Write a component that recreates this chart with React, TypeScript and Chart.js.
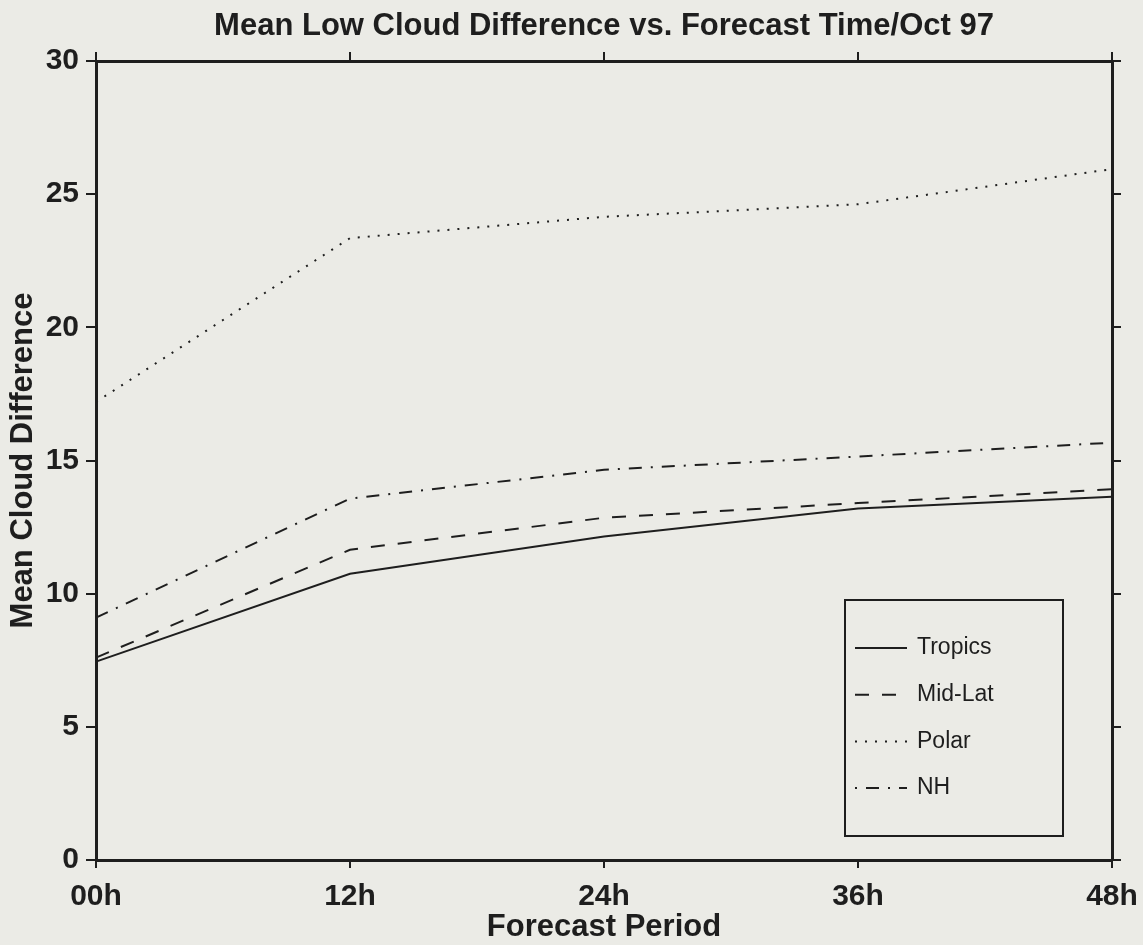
import React, { useEffect, useRef } from "react";
import { Chart, registerables } from "chart.js";

Chart.register(...registerables);

const forecastLabels = ["00h", "12h", "24h", "36h", "48h"];
const tropics = [7.45, 10.75, 12.15, 13.2, 13.64];
const midLat = [7.6, 11.65, 12.85, 13.4, 13.92];
const polar = [17.2, 23.35, 24.15, 24.62, 25.94];
const nh = [9.1, 13.57, 14.65, 15.15, 15.67];

const BG = "#ebebe6";
const INK = "#1e1e1e";
const FONT = "'Liberation Sans', Arial, Helvetica, sans-serif";

const bgPlugin = {
  id: "bgFill",
  beforeDraw(chart: any) {
    const { ctx, width, height } = chart;
    ctx.save();
    ctx.fillStyle = BG;
    ctx.fillRect(0, 0, width, height);
    ctx.restore();
  },
};

const legendPlugin = {
  id: "boxLegend",
  afterDatasetsDraw(chart: any) {
    const { ctx, chartArea } = chart;
    const w = 218;
    const h = 236;
    const x = chartArea.right - 49 - w;
    const y = chartArea.bottom - 24 - h;
    ctx.save();
    ctx.fillStyle = BG;
    ctx.fillRect(x, y, w, h);
    ctx.strokeStyle = INK;
    ctx.lineWidth = 2;
    ctx.setLineDash([]);
    ctx.strokeRect(x, y, w, h);
    chart.data.datasets.forEach((ds: any, i: number) => {
      const cy = y + 48 + i * 46.7;
      ctx.beginPath();
      ctx.setLineDash(ds.legendDash || ds.borderDash || []);
      ctx.lineWidth = 2;
      ctx.strokeStyle = INK;
      ctx.moveTo(x + 10, cy);
      ctx.lineTo(x + 62, cy);
      ctx.stroke();
      ctx.setLineDash([]);
      ctx.fillStyle = INK;
      ctx.font = `23px ${FONT}`;
      ctx.textAlign = "left";
      ctx.textBaseline = "middle";
      ctx.fillText(ds.label, x + 72, cy);
    });
    ctx.restore();
  },
};

export default function App() {
  const ref = useRef<HTMLCanvasElement | null>(null);

  useEffect(() => {
    if (!ref.current) return;
    const tickGrid = (len: number) => ({
      display: true,
      drawOnChartArea: false,
      drawTicks: true,
      tickLength: len,
      color: INK,
      lineWidth: 2,
    });
    const border = { display: true, width: 3, color: INK };
    const labelFont = { family: FONT, size: 30, weight: "bold", lineHeight: 1 };
    const titleFont = { family: FONT, size: 31, weight: "bold", lineHeight: 1 };
    const chart = new Chart(ref.current, {
      type: "line",
      data: {
        labels: forecastLabels,
        datasets: [
          { label: "Tropics", data: tropics, borderDash: [] },
          { label: "Mid-Lat", data: midLat, borderDash: [14, 13] },
          { label: "Polar", data: polar, borderDash: [2, 8] },
          { label: "NH", data: nh, borderDash: [13, 9, 2, 9], legendDash: [2, 9, 13, 9] },
        ].map((d: any) => ({
          ...d,
          borderColor: INK,
          backgroundColor: INK,
          borderWidth: 2,
          pointRadius: 0,
          tension: 0,
          fill: false,
        })) as any,
      },
      options: {
        animation: false,
        responsive: false,
        layout: { padding: 0 },
        plugins: {
          legend: { display: false },
          tooltip: { enabled: false },
          title: {
            display: true,
            text: "Mean Low Cloud Difference vs. Forecast Time/Oct 97",
            color: INK,
            font: { family: FONT, size: 31, weight: "bold", lineHeight: 1 },
            padding: { top: 11, bottom: 0 },
            fullSize: false,
          } as any,
        },
        scales: {
          x: {
            type: "category",
            position: "bottom",
            offset: false,
            grid: tickGrid(8),
            border,
            ticks: {
              color: INK,
              font: labelFont,
              padding: 14,
              maxRotation: 0,
              autoSkip: false,
            },
            title: {
              display: true,
              text: "Forecast Period",
              color: INK,
              font: titleFont,
              padding: { top: 0, bottom: 2 },
            },
            afterFit: (s: any) => {
              s.height = 85;
              s.paddingLeft = 0;
              s.paddingRight = 0;
            },
          } as any,
          x2: {
            type: "category",
            position: "top",
            offset: false,
            grid: tickGrid(9),
            border,
            ticks: { display: false },
            afterFit: (s: any) => {
              s.height = 19;
              s.paddingLeft = 0;
              s.paddingRight = 0;
            },
          } as any,
          y: {
            type: "linear",
            position: "left",
            min: 0,
            max: 30,
            grid: tickGrid(10),
            border,
            ticks: {
              stepSize: 5,
              color: INK,
              padding: 7,
              font: labelFont,
            },
            title: {
              display: true,
              text: "Mean Cloud Difference",
              color: INK,
              font: titleFont,
              padding: { top: 8, bottom: 0 },
            },
            afterFit: (s: any) => {
              s.width = 96;
              s.paddingTop = 0;
              s.paddingBottom = 0;
            },
          } as any,
          y2: {
            type: "linear",
            position: "right",
            min: 0,
            max: 30,
            grid: tickGrid(9),
            border,
            ticks: { display: false, stepSize: 5 },
            afterFit: (s: any) => {
              s.width = 31;
              s.paddingTop = 0;
              s.paddingBottom = 0;
            },
          } as any,
        },
      },
      plugins: [bgPlugin, legendPlugin],
    });
    return () => chart.destroy();
  }, []);

  return (
    <div
      style={{
        position: "fixed",
        left: 0,
        top: 0,
        width: 1143,
        height: 945,
        background: BG,
      }}
    >
      <canvas ref={ref} width={1143} height={945} style={{ display: "block" }} />
    </div>
  );
}
